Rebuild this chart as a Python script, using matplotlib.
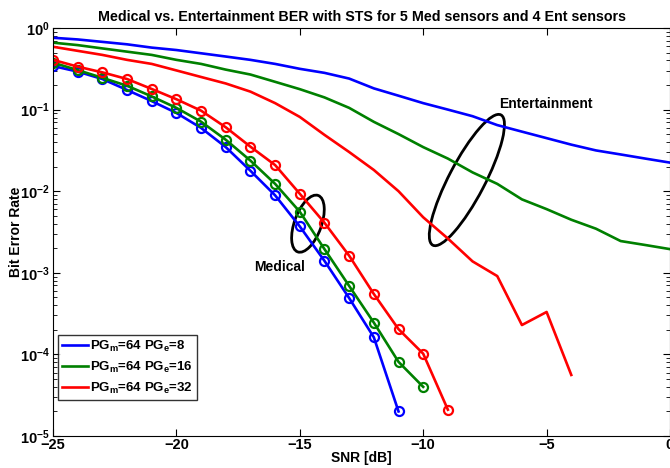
import matplotlib
matplotlib.use("Agg")
import matplotlib.pyplot as plt
from matplotlib.patches import Ellipse
from matplotlib.transforms import ScaledTranslation

plt.rcParams['font.family'] = ['Liberation Sans', 'DejaVu Sans']
plt.rcParams['mathtext.fontset'] = 'custom'
plt.rcParams['mathtext.rm'] = 'Liberation Sans:bold'
plt.rcParams['mathtext.bf'] = 'Liberation Sans:bold'
plt.rcParams['mathtext.default'] = 'bf'

# ---------------- data ----------------
snr_ent = [-25, -24, -23, -22, -21, -20, -19, -18, -17, -16, -15, -14, -13,
           -12, -11, -10, -9, -8, -7, -6, -5, -4, -3, -2, -1, 0]
ent_pg8 = [0.759, 0.724, 0.676, 0.631, 0.575, 0.537, 0.49, 0.447, 0.407, 0.363,
           0.316, 0.282, 0.24, 0.182, 0.148, 0.12, 0.1, 0.083, 0.0646, 0.0537,
           0.0447, 0.0372, 0.0316, 0.0282, 0.0251, 0.0224]
ent_pg16 = [0.661, 0.617, 0.562, 0.513, 0.468, 0.407, 0.363, 0.309, 0.269, 0.219,
            0.178, 0.141, 0.105, 0.0708, 0.0501, 0.0347, 0.0251, 0.017, 0.0123,
            0.00794, 0.00603, 0.00447, 0.00347, 0.00245, 0.00219, 0.00195]
snr_ent32 = [-25, -24, -23, -22, -21, -20, -19, -18, -17, -16, -15, -14, -13,
             -12, -11, -10, -9, -8, -7, -6, -5, -4]
ent_pg32 = [0.589, 0.525, 0.468, 0.407, 0.363, 0.302, 0.251, 0.209, 0.166, 0.12,
            0.0813, 0.049, 0.0302, 0.0182, 0.01, 0.00479, 0.00263, 0.00138,
            0.000912, 0.000229, 0.000331, 5.6e-5]

snr_med8 = [-25, -24, -23, -22, -21, -20, -19, -18, -17, -16, -15, -14, -13, -12, -11]
med_pg8 = [0.342, 0.292, 0.237, 0.174, 0.127, 0.091, 0.0596, 0.0347, 0.0178,
           0.0089, 0.0037, 0.0014, 4.9e-4, 1.62e-4, 2.0e-5]
snr_med16 = [-25, -24, -23, -22, -21, -20, -19, -18, -17, -16, -15, -14, -13, -12, -11, -10]
med_pg16 = [0.376, 0.305, 0.245, 0.196, 0.145, 0.105, 0.0711, 0.0427, 0.0237,
            0.0123, 0.0056, 0.00195, 6.9e-4, 2.45e-4, 8.1e-5, 4.0e-5]
snr_med32 = [-25, -24, -23, -22, -21, -20, -19, -18, -17, -16, -15, -14, -13, -12, -11, -10, -9]
med_pg32 = [0.407, 0.336, 0.286, 0.237, 0.179, 0.134, 0.097, 0.0607, 0.0351,
            0.0209, 0.0093, 0.0041, 0.00162, 5.5e-4, 2.04e-4, 1.02e-4, 2.1e-5]

labels = [r'PG$_{m}$=64 PG$_{e}$=8', r'PG$_{m}$=64 PG$_{e}$=16', r'PG$_{m}$=64 PG$_{e}$=32']
colors = ['#0000ff', '#008000', '#ff0000']

# ---------------- figure ----------------
fig = plt.figure(figsize=(6.7, 4.68), dpi=100)
ax = fig.add_axes([53 / 670, 32 / 468, 617 / 670, 408 / 468])

lw = 1.9
ms = 6.5
ax.semilogy(snr_ent, ent_pg8, color=colors[0], lw=lw, label=labels[0])
ax.semilogy(snr_ent, ent_pg16, color=colors[1], lw=lw, label=labels[1])
ax.semilogy(snr_ent32, ent_pg32, color=colors[2], lw=lw, label=labels[2])
ax.semilogy(snr_med8, med_pg8, color=colors[0], lw=lw, marker='o', ms=ms,
            mfc='none', mew=1.6)
ax.semilogy(snr_med16, med_pg16, color=colors[1], lw=lw, marker='o', ms=ms,
            mfc='none', mew=1.6)
ax.semilogy(snr_med32, med_pg32, color=colors[2], lw=lw, marker='o', ms=ms,
            mfc='none', mew=1.6)

ax.set_xlim(-25, 0)
ax.set_ylim(1e-5, 1)
ax.set_xticks([-25, -20, -15, -10, -5, 0])
ax.tick_params(which='both', direction='in', top=True, right=True,
               labelsize=10.5)
ax.tick_params(axis='x', pad=1.5)
ax.tick_params(axis='y', pad=2.5)
ax.tick_params(which='major', length=5)
ax.tick_params(which='minor', length=3)
for lab in ax.get_xticklabels() + ax.get_yticklabels():
    lab.set_fontweight('bold')

ax.set_title('Medical vs. Entertainment BER with STS for 5 Med sensors and 4 Ent sensors',
             fontsize=10.3, fontweight='bold', pad=5)
ax.set_xlabel('SNR [dB]', fontsize=10, fontweight='bold', labelpad=-1)
ax.set_ylabel('Bit Error Rate', fontsize=10, fontweight='bold')
ax.yaxis.set_label_coords(-0.048, 0.5)

# annotation ellipses (sized in inches, centred on data points)
def add_ellipse(xc, yc, w, h, ang):
    tr = fig.dpi_scale_trans + ScaledTranslation(xc, yc, ax.transData)
    e = Ellipse((0, 0), w, h, angle=ang, fill=False, ec='black', lw=2.0,
                transform=tr, clip_on=False)
    ax.add_patch(e)

add_ellipse(-14.67, 0.0040, 0.27, 0.60, -20)
add_ellipse(-8.23, 0.0137, 0.36, 1.47, -27.6)

ax.text(-15.84, 1.17e-3, 'Medical', fontsize=10, fontweight='bold',
        ha='center', va='center')
ax.text(-5.02, 0.117, 'Entertainment', fontsize=10, fontweight='bold',
        ha='center', va='center')

leg = ax.legend(loc='lower left', bbox_to_anchor=(0.008, 0.088),
                fontsize=9.5, frameon=True, fancybox=False, edgecolor='black',
                handlelength=2.0, handletextpad=0.15, labelspacing=0.45,
                borderpad=0.3, borderaxespad=0)
leg.get_frame().set_linewidth(1.0)
for t in leg.get_texts():
    t.set_fontweight('bold')

fig.savefig('out.png', dpi=100)
